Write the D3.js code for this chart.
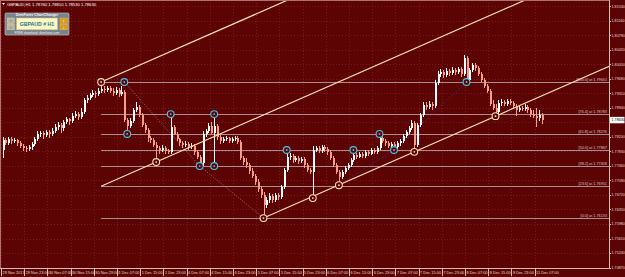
<!DOCTYPE html>
<html><head><meta charset="utf-8">
<script src="https://cdn.jsdelivr.net/npm/d3@7"></script>
<style>html,body{margin:0;padding:0;background:#5c0303;overflow:hidden}svg{display:block}text{font-family:"Liberation Sans",Arial,sans-serif}</style>
</head><body><svg id="c" width="625" height="277"></svg>
<script>
const symbol = "GBPAUD,H1";
const xTickLabels = ["29 Nov 2017","29 Nov 23:00","30 Nov 07:00","30 Nov 15:00","30 Nov 23:00","1 Dec 07:00","1 Dec 15:00","1 Dec 23:00","4 Dec 07:00","4 Dec 15:00","4 Dec 23:00","5 Dec 07:00","5 Dec 15:00","5 Dec 23:00","6 Dec 07:00","6 Dec 15:00","6 Dec 23:00","7 Dec 07:00","7 Dec 15:00","7 Dec 23:00","8 Dec 07:00","8 Dec 15:00","8 Dec 23:00","11 Dec 07:00"];
const xTickBars = [0,8,16,24,32,40,48,56,64,72,80,88,96,104,112,120,128,136,144,152,160,168,176,184];
const priceTicks = [1.81530,1.81160,1.80790,1.80420,1.80050,1.79680,1.79310,1.78940,1.78570,1.78200,1.77830,1.77460,1.77090,1.76720,1.76350,1.75980,1.75610,1.75240,1.74870];

const open = [1.7787,1.7812,1.7805,1.7815,1.7810,1.7812,1.7805,1.7797,1.7792,1.7789,
1.7794,1.7802,1.7815,1.7828,1.7830,1.7825,1.7833,1.7828,1.7835,1.7845,
1.7850,1.7843,1.7858,1.7866,1.7861,1.7873,1.7879,1.7871,1.7884,1.7914,
1.7919,1.7927,1.7932,1.7930,1.7937,1.7942,1.7940,1.7945,1.7937,1.7932,
1.7940,1.7930,1.7935,1.7863,1.7848,1.7861,1.7889,1.7896,1.7876,1.7850,
1.7838,1.7817,1.7812,1.7799,1.7792,1.7787,1.7792,1.7784,1.7782,1.7845,
1.7828,1.7815,1.7805,1.7799,1.7802,1.7794,1.7797,1.7782,1.7769,1.7754,
1.7828,1.7835,1.7848,1.7830,1.7848,1.7820,1.7810,1.7815,1.7817,1.7810,
1.7815,1.7817,1.7807,1.7766,1.7756,1.7748,1.7733,1.7720,1.7705,1.7687,
1.7672,1.7646,1.7659,1.7669,1.7659,1.7672,1.7667,1.7692,1.7736,1.7769,
1.7771,1.7761,1.7766,1.7759,1.7764,1.7748,1.7736,1.7731,1.7787,1.7792,
1.7784,1.7794,1.7789,1.7782,1.7766,1.7748,1.7731,1.7718,1.7731,1.7741,
1.7748,1.7761,1.7774,1.7769,1.7777,1.7771,1.7782,1.7777,1.7787,1.7782,
1.7792,1.7817,1.7810,1.7805,1.7797,1.7802,1.7794,1.7805,1.7810,1.7822,
1.7833,1.7843,1.7856,1.7799,1.7850,1.7876,1.7901,1.7896,1.7904,1.7899,
1.7958,1.7981,1.7986,1.7978,1.7988,1.7983,1.7991,1.7986,1.7993,1.7981,
1.8021,1.7965,1.7991,1.8003,1.7996,1.7981,1.7965,1.7950,1.7937,1.7904,
1.7894,1.7884,1.7907,1.7909,1.7904,1.7912,1.7907,1.7899,1.7889,1.7894,
1.7891,1.7896,1.7889,1.7879,1.7873,1.7868,1.7876];
const high = [1.7820,1.7817,1.7820,1.7820,1.7817,1.7815,1.7810,1.7802,1.7797,1.7799,
1.7807,1.7820,1.7835,1.7835,1.7835,1.7838,1.7838,1.7843,1.7853,1.7858,
1.7856,1.7863,1.7871,1.7868,1.7881,1.7886,1.7884,1.7894,1.7919,1.7927,
1.7932,1.7940,1.7937,1.7945,1.7960,1.7950,1.7950,1.7950,1.7945,1.7947,
1.7945,1.7950,1.7940,1.7868,1.7868,1.7894,1.7909,1.7901,1.7881,1.7856,
1.7843,1.7822,1.7817,1.7807,1.7797,1.7799,1.7797,1.7789,1.7876,1.7850,
1.7833,1.7817,1.7810,1.7810,1.7807,1.7805,1.7802,1.7787,1.7774,1.7835,
1.7840,1.7856,1.7858,1.7876,1.7853,1.7825,1.7820,1.7822,1.7820,1.7820,
1.7822,1.7822,1.7812,1.7771,1.7766,1.7754,1.7741,1.7726,1.7713,1.7695,
1.7680,1.7667,1.7677,1.7675,1.7677,1.7677,1.7697,1.7741,1.7787,1.7779,
1.7777,1.7771,1.7771,1.7769,1.7769,1.7754,1.7741,1.7797,1.7797,1.7797,
1.7799,1.7799,1.7794,1.7787,1.7771,1.7754,1.7736,1.7736,1.7746,1.7754,
1.7766,1.7787,1.7779,1.7782,1.7782,1.7787,1.7787,1.7792,1.7792,1.7797,
1.7828,1.7822,1.7815,1.7810,1.7807,1.7807,1.7810,1.7815,1.7828,1.7838,
1.7848,1.7863,1.7861,1.7856,1.7881,1.7909,1.7909,1.7912,1.7909,1.7965,
1.7988,1.7993,1.7991,1.7996,1.7993,1.7998,1.7996,1.7998,1.7998,1.8029,
1.8026,1.7996,1.8009,1.8009,1.8001,1.7986,1.7970,1.7955,1.7942,1.7914,
1.7904,1.7914,1.7917,1.7914,1.7917,1.7917,1.7912,1.7904,1.7901,1.7899,
1.7904,1.7901,1.7894,1.7889,1.7894,1.7889,1.7881];
const low = [1.7766,1.7799,1.7799,1.7802,1.7805,1.7797,1.7792,1.7784,1.7782,1.7784,
1.7787,1.7797,1.7810,1.7820,1.7815,1.7820,1.7817,1.7822,1.7830,1.7838,
1.7830,1.7835,1.7853,1.7850,1.7856,1.7868,1.7863,1.7866,1.7879,1.7907,
1.7914,1.7922,1.7919,1.7924,1.7932,1.7932,1.7935,1.7932,1.7924,1.7927,
1.7922,1.7924,1.7858,1.7825,1.7843,1.7856,1.7884,1.7871,1.7845,1.7830,
1.7807,1.7805,1.7794,1.7756,1.7777,1.7782,1.7777,1.7777,1.7777,1.7825,
1.7810,1.7797,1.7792,1.7794,1.7787,1.7789,1.7774,1.7764,1.7743,1.7746,
1.7820,1.7830,1.7828,1.7741,1.7812,1.7802,1.7805,1.7810,1.7805,1.7805,
1.7810,1.7802,1.7761,1.7748,1.7741,1.7726,1.7715,1.7697,1.7680,1.7664,
1.7613,1.7639,1.7652,1.7652,1.7654,1.7659,1.7662,1.7687,1.7731,1.7761,
1.7754,1.7756,1.7751,1.7754,1.7741,1.7731,1.7726,1.7664,1.7782,1.7779,
1.7779,1.7782,1.7774,1.7761,1.7743,1.7726,1.7697,1.7713,1.7726,1.7736,
1.7743,1.7756,1.7764,1.7766,1.7766,1.7766,1.7771,1.7774,1.7777,1.7777,
1.7787,1.7805,1.7797,1.7792,1.7792,1.7787,1.7789,1.7797,1.7805,1.7817,
1.7828,1.7838,1.7782,1.7794,1.7845,1.7871,1.7889,1.7891,1.7889,1.7894,
1.7952,1.7973,1.7970,1.7973,1.7975,1.7978,1.7978,1.7981,1.7973,1.7975,
1.7955,1.7960,1.7986,1.7988,1.7975,1.7960,1.7945,1.7932,1.7899,1.7889,
1.7873,1.7879,1.7899,1.7899,1.7899,1.7901,1.7891,1.7873,1.7884,1.7886,
1.7886,1.7881,1.7871,1.7868,1.7845,1.7861,1.7853];
const close = [1.7812,1.7805,1.7815,1.7810,1.7812,1.7805,1.7797,1.7792,1.7789,1.7794,
1.7802,1.7815,1.7828,1.7830,1.7825,1.7833,1.7828,1.7835,1.7845,1.7850,
1.7843,1.7858,1.7866,1.7861,1.7873,1.7879,1.7871,1.7884,1.7914,1.7919,
1.7927,1.7932,1.7930,1.7937,1.7942,1.7940,1.7945,1.7937,1.7932,1.7940,
1.7930,1.7935,1.7863,1.7848,1.7861,1.7889,1.7896,1.7876,1.7850,1.7838,
1.7817,1.7812,1.7799,1.7792,1.7787,1.7792,1.7784,1.7782,1.7845,1.7828,
1.7815,1.7805,1.7799,1.7802,1.7794,1.7797,1.7782,1.7769,1.7754,1.7828,
1.7835,1.7848,1.7830,1.7848,1.7820,1.7810,1.7815,1.7817,1.7810,1.7815,
1.7817,1.7807,1.7766,1.7756,1.7748,1.7733,1.7720,1.7705,1.7687,1.7672,
1.7646,1.7659,1.7669,1.7659,1.7672,1.7667,1.7692,1.7736,1.7769,1.7771,
1.7761,1.7766,1.7759,1.7764,1.7748,1.7736,1.7731,1.7787,1.7792,1.7784,
1.7794,1.7789,1.7782,1.7766,1.7748,1.7731,1.7718,1.7731,1.7741,1.7748,
1.7761,1.7774,1.7769,1.7777,1.7771,1.7782,1.7777,1.7787,1.7782,1.7792,
1.7817,1.7810,1.7805,1.7797,1.7802,1.7794,1.7805,1.7810,1.7822,1.7833,
1.7843,1.7856,1.7799,1.7850,1.7876,1.7901,1.7896,1.7904,1.7899,1.7958,
1.7981,1.7986,1.7978,1.7988,1.7983,1.7991,1.7986,1.7993,1.7981,1.8021,
1.7965,1.7991,1.8003,1.7996,1.7981,1.7965,1.7950,1.7937,1.7904,1.7894,
1.7884,1.7907,1.7909,1.7904,1.7912,1.7907,1.7899,1.7889,1.7894,1.7891,
1.7896,1.7889,1.7879,1.7873,1.7868,1.7876,1.7863];

const fibLevels = ["100.0","76.4","61.8","50.0","38.2","23.6","0.0"];
const fibPrices = [1.79601,1.78783,1.78276,1.77867,1.77458,1.76951,1.76133];
const fibStartBar = 34;
const swingBars = [34,53,90,107,116,142,170];
const swingPrices = [1.79601,1.7756,1.7613,1.7664,1.7697,1.7782,1.7873];
const hitBars = [42,43,58,68,73,73,98,121,130,135,160];
const hitPrices = [1.79601,1.78276,1.78783,1.77458,1.78783,1.77458,1.77867,1.77867,1.78276,1.77867,1.79601];
const channelA = [[34,1.79601],[53,1.80218]];
const channelB = [[34,1.76943],[53,1.77560]];
const channelC = [[90,1.76133],[170,1.78730]];
const zigzagGray = [[42,1.79601],[68,1.77458],[90,1.76133]];
const zigzagBlue = [[116,1.7697],[135,1.77867],[160,1.79601]];

const W=625,H=277,plotR=609,plotB=268;
const svg=d3.select("#c");
const x=d3.scaleLinear().domain([0,209]).range([2.5,608.6]);
const y=d3.scaleLinear().domain([1.74858,1.81692]).range([plotB,0]);
const BG="#5c0303";
svg.append("rect").attr("width",W).attr("height",H).attr("fill",BG);
svg.append("defs").append("clipPath").attr("id","pc").append("rect").attr("x",0).attr("y",0).attr("width",plotR).attr("height",plotB);

// grid
const grid=svg.append("g").attr("stroke","#8c2424").attr("stroke-width",0.7).attr("stroke-dasharray","1,2").attr("shape-rendering","crispEdges");
grid.selectAll("line.h").data(priceTicks).join("line").attr("x1",0).attr("x2",plotR).attr("y1",d=>Math.round(y(d))+0.5).attr("y2",d=>Math.round(y(d))+0.5);
grid.selectAll("line.v").data(xTickBars).join("line").attr("y1",0).attr("y2",plotB).attr("x1",d=>Math.round(x(d)-1.5)+0.5).attr("x2",d=>Math.round(x(d)-1.5)+0.5);

const plot=svg.append("g").attr("clip-path","url(#pc)");
// fib lines
plot.append("g").selectAll("line").data(fibPrices).join("line")
 .attr("x1",x(fibStartBar)).attr("x2",plotR).attr("y1",d=>Math.round(y(d))+0.5).attr("y2",d=>Math.round(y(d))+0.5)
 .attr("stroke","#a89090").attr("stroke-width",1);
plot.append("g").selectAll("text").data(fibPrices).join("text")
 .attr("x",607).attr("y",d=>y(d)-1.2).attr("text-anchor","end").attr("font-size",3.8).attr("fill","#d8c4c4")
 .text((d,i)=>"["+fibLevels[i]+"] at "+d.toFixed(5));

const line=d3.line().x(d=>x(d[0])).y(d=>y(d[1]));
plot.append("path").attr("d",line(zigzagGray)).attr("fill","none").attr("stroke","#b49a9a").attr("stroke-width",0.7).attr("stroke-dasharray","1,1.5");
plot.append("path").attr("d",line(zigzagBlue)).attr("fill","none").attr("stroke","#3a34b8").attr("stroke-width",0.8).attr("stroke-dasharray","1,1.5");

// candles
const idx=d3.range(close.length);
const BULL="#ffffff",BEAR="#f3a08a";
const cg=plot.append("g").attr("shape-rendering","crispEdges");
cg.selectAll("line").data(idx).join("line")
 .attr("x1",i=>Math.round(x(i))+0.5).attr("x2",i=>Math.round(x(i))+0.5)
 .attr("y1",i=>y(high[i])).attr("y2",i=>y(low[i]))
 .attr("stroke",i=>close[i]>=open[i]?BULL:BEAR).attr("stroke-width",1);
cg.selectAll("rect").data(idx).join("rect")
 .attr("x",i=>Math.round(x(i))-0.5).attr("width",2)
 .attr("y",i=>y(Math.max(open[i],close[i])))
 .attr("height",i=>Math.max(1,Math.abs(y(open[i])-y(close[i]))))
 .attr("fill",i=>close[i]>=open[i]?BULL:BEAR);

// channel rays
function ray(p){const s=(p[1][1]-p[0][1])/(p[1][0]-p[0][0]);const b2=215;return [p[0],[b2,p[0][1]+s*(b2-p[0][0])]];}
[channelA,channelB,channelC].forEach(c=>{
 plot.append("path").attr("d",line(ray(c))).attr("fill","none").attr("stroke","#f6e2b4").attr("stroke-width",1.2);
});

// markers
const mk=plot.append("g");
const hits=hitBars.map((b,i)=>[b,hitPrices[i]]);
const swings=swingBars.map((b,i)=>[b,swingPrices[i]]);
mk.selectAll("circle.h").data(hits).join("circle").attr("cx",d=>x(d[0])).attr("cy",d=>y(d[1])).attr("r",3.4)
 .attr("fill",BG).attr("stroke","#48c4ec").attr("stroke-width",1.1);
mk.selectAll("circle.hd").data(hits).join("circle").attr("cx",d=>x(d[0])).attr("cy",d=>y(d[1])).attr("r",0.9).attr("fill","#48c4ec");
mk.selectAll("circle.s").data(swings).join("circle").attr("cx",d=>x(d[0])).attr("cy",d=>y(d[1])).attr("r",3.4)
 .attr("fill",BG).attr("stroke","#f6e2c0").attr("stroke-width",1.1);
mk.selectAll("circle.sd").data(swings).join("circle").attr("cx",d=>x(d[0])).attr("cy",d=>y(d[1])).attr("r",0.9).attr("fill","#f6e2c0");

// axes
const ax=svg.append("g").attr("shape-rendering","crispEdges");
ax.append("line").attr("x1",0.5).attr("x2",0.5).attr("y1",0).attr("y2",plotB).attr("stroke","#b07070");
ax.append("line").attr("x1",0).attr("x2",plotR).attr("y1",0.5).attr("y2",0.5).attr("stroke","#b07070");
ax.append("line").attr("x1",plotR+0.5).attr("x2",plotR+0.5).attr("y1",0).attr("y2",plotB+1).attr("stroke","#d0bfb0");
ax.append("line").attr("x1",0).attr("x2",plotR+1).attr("y1",plotB+0.5).attr("y2",plotB+0.5).attr("stroke","#d0bfb0");
ax.selectAll("line.rt").data(priceTicks).join("line").attr("x1",plotR).attr("x2",plotR+2)
 .attr("y1",d=>Math.round(y(d))+0.5).attr("y2",d=>Math.round(y(d))+0.5).attr("stroke","#d0bfb0");

const last=close[close.length-1];
const boxY=y(last);
// MT4 draws the current-price tag over the scale: labels it covers are hidden
svg.append("g").selectAll("text").data(priceTicks.filter(d=>Math.abs(y(d)-boxY)>5.5)).join("text")
 .attr("x",611.5).attr("y",d=>y(d)+0.3).attr("dominant-baseline","middle").attr("font-size",3.7).attr("fill","#e8dcd6")
 .text(d=>d.toFixed(5));
ax.selectAll("line.bt").data(xTickBars).join("line").attr("x1",d=>Math.round(x(d)-1.5)+0.5).attr("x2",d=>Math.round(x(d)-1.5)+0.5)
 .attr("y1",plotB).attr("y2",276).attr("stroke","#d0bfb0");
svg.append("g").selectAll("text").data(xTickBars).join("text")
 .attr("x",d=>x(d)).attr("y",274.3).attr("font-size",3.9).attr("fill","#e8dcd6")
 .text((d,i)=>xTickLabels[i]);

// current price box
svg.append("rect").attr("x",plotR+1).attr("y",boxY-3.2).attr("width",W-plotR-1.5).attr("height",6.4).attr("fill","#ffffff");
svg.append("text").attr("x",611.5).attr("y",boxY+0.3).attr("dominant-baseline","middle").attr("font-size",3.7).attr("fill","#000").text(last.toFixed(5));

// title
const n=close.length-1;
svg.append("path").attr("d","M2,3 L5,3 L3.5,5 Z").attr("fill","#ffffff");
svg.append("text").attr("x",7).attr("y",6).attr("font-size",4.2).attr("fill","#ffffff")
 .text(symbol+"  "+[open[n],high[n],low[n],close[n]].map(v=>v.toFixed(5)).join(" "));

// ChartChanger widget
const wg=svg.append("g").attr("transform","translate(5,13)");
wg.append("rect").attr("width",64).attr("height",22).attr("fill","#79838e").attr("stroke","#c4ccd4").attr("stroke-width",0.6).attr("rx",1);
wg.append("text").attr("x",32).attr("y",3.4).attr("text-anchor","middle").attr("font-size",3.6).attr("font-weight","bold").attr("fill","#f4f4f4").text("DemForex ChartChanger");
[5,11.2].forEach((yy,k)=>{
 wg.append("rect").attr("x",2.3).attr("y",yy).attr("width",7).attr("height",5.6).attr("fill","#bdb79a").attr("stroke","#e0dcc8").attr("stroke-width",0.4);
 wg.append("text").attr("x",5.8).attr("y",yy+4.4).attr("text-anchor","middle").attr("font-size",4.5).attr("fill","#8a8468").text(k?"«":"»");
 wg.append("rect").attr("x",55).attr("y",yy).attr("width",7.5).attr("height",5.6).attr("fill","#d9991a").attr("stroke","#f0c060").attr("stroke-width",0.4);
 wg.append("text").attr("x",58.75).attr("y",yy+4.6).attr("text-anchor","middle").attr("font-size",5).attr("font-weight","bold").attr("fill","#ffffff").text(k?"↓":"↑");
});
wg.append("rect").attr("x",11.5).attr("y",5).attr("width",41).attr("height",11.8).attr("fill","#fbf7c6").attr("stroke","#cdbb72").attr("stroke-width",0.5);
wg.append("text").attr("x",32).attr("y",12.6).attr("text-anchor","middle").attr("font-size",5.2).attr("font-weight","bold").attr("fill","#23788a").text("GBPAUD # H1");
wg.append("text").attr("x",32).attr("y",20.6).attr("text-anchor","middle").attr("font-size",3.2).attr("fill","#ececec").text("FREE download:  demforex.com");
</script></body></html>
